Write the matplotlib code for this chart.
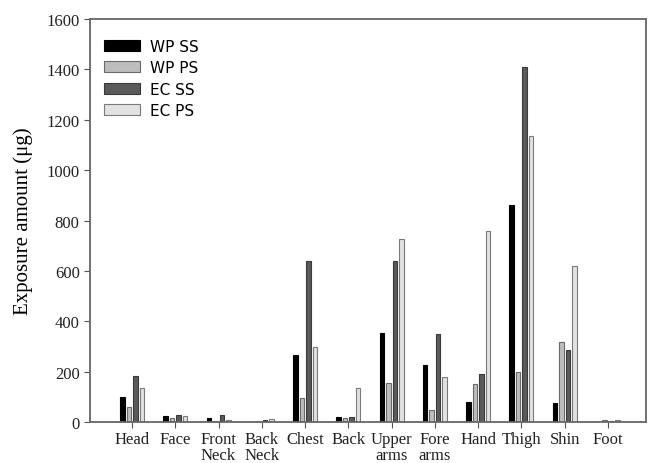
import matplotlib
matplotlib.use("Agg")
import matplotlib.pyplot as plt
import numpy as np

# ── data ────────────────────────────────────────────────────────────────────
regions = ["Head", "Face", "Front\nNeck", "Back\nNeck", "Chest", "Back",
           "Upper\narms", "Fore\narms", "Hand", "Thigh", "Shin", "Foot"]
wp_ss = [100, 25, 15, 2, 265, 22, 355, 225, 80, 860, 75, 2]
wp_ps = [60, 18, 3, 5, 95, 15, 155, 50, 150, 200, 320, 8]
ec_ss = [185, 30, 30, 8, 640, 20, 640, 350, 190, 1410, 285, 3]
ec_ps = [135, 25, 8, 12, 300, 135, 725, 180, 760, 1135, 620, 8]

series = [
    ("WP SS", wp_ss, "#000000", "#000000"),
    ("WP PS", wp_ps, "#bdbdbd", "#6a6a6a"),
    ("EC SS", ec_ss, "#5a5a5a", "#3a3a3a"),
    ("EC PS", ec_ps, "#e2e2e2", "#7a7a7a"),
]

serif = ["Liberation Serif", "DejaVu Serif"]

fig = plt.figure(figsize=(6.48, 4.64), dpi=100)
ax = fig.add_axes([0.139, 0.088, 0.858, 0.869])

x = np.arange(1, len(regions) + 1)
width = 0.105
step = 0.15
for i, (name, vals, fc, ec) in enumerate(series):
    ax.bar(x + (i - 1.5) * step, vals, width=width, color=fc,
           edgecolor=ec, linewidth=0.8, label=name)

ax.set_xlim(0.03, 12.88)
ax.set_ylim(0, 1600)
ax.set_yticks(range(0, 1601, 200))
ax.set_xticks(x)
ax.set_xticklabels(regions, fontfamily=serif, fontsize=12, linespacing=1.05)
for lab in ax.get_yticklabels():
    lab.set_fontfamily(serif)
    lab.set_fontsize(12)
ax.tick_params(axis="both", direction="out", length=4, color="#555555",
               labelcolor="#222222")
ax.tick_params(axis="x", pad=2)
for s in ax.spines.values():
    s.set_color("#666666")
    s.set_linewidth(1.3)

ax.set_ylabel("Exposure amount (\u03bcg)", fontfamily=serif, fontsize=15,
              labelpad=10)

leg = ax.legend(loc="upper left", bbox_to_anchor=(0.0, 0.985), frameon=False,
                prop={"family": "DejaVu Sans", "size": 11},
                handlelength=2.4, handleheight=0.7, labelspacing=0.42,
                handletextpad=0.65)

fig.savefig("out.png", dpi=100)
